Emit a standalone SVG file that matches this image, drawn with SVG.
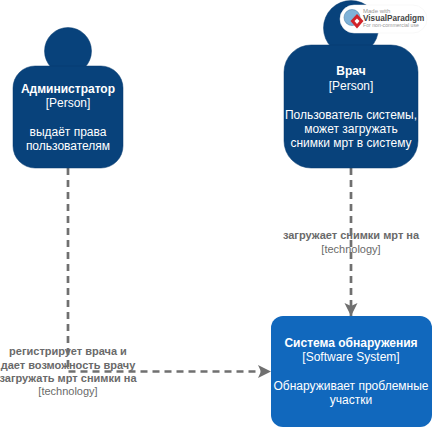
<svg xmlns="http://www.w3.org/2000/svg" width="432" height="427" viewBox="0 0 432 427">
<style>
text{font-family:"Liberation Sans",Arial,sans-serif;font-size:12px;text-anchor:middle}
.n text{fill:#fff}
.b{font-weight:700}
.p{fill:#08427b;stroke:#073b6f;stroke-width:.5}
.l{fill:none;stroke:#707070;stroke-width:2.700;stroke-dasharray:7 5}
.e text{fill:#6a6a6a;font-size:11px}
.w{text-anchor:start}
</style>
<defs><marker id="a" markerWidth="14" markerHeight="14" refX="13" refY="7" orient="auto" markerUnits="userSpaceOnUse"><path d="M0 0.500L13 7L0 13.500L3 7Z" fill="#707070"/></marker></defs>
<g id="edge-labels" class="e">
<text class="b" x="68" y="355">регистрирует врача и</text>
<text class="b" x="68" y="369">дает возможность врачу</text>
<text class="b" x="68" y="382">загружать мрт снимки на</text>
<text x="68" y="395">[technology]</text>
<text class="b" x="351" y="239">загружает снимки мрт на</text>
<text x="351" y="253">[technology]</text>
</g>
<g id="connectors">
<path class="l" d="M68 168V371.500H271" marker-end="url(#a)"/>
<path class="l" d="M351 168V316" marker-end="url(#a)"/>
</g>
<g id="admin" class="n">
<circle class="p" cx="68" cy="51" r="23.500"/>
<rect class="p" x="13" y="66" width="110" height="102" rx="22"/>
<text class="b" x="68" y="93">Администратор</text>
<text x="68" y="107">[Person]</text>
<text x="68" y="136">выдаёт права</text>
<text x="68" y="150">пользователям</text>
</g>
<g id="doctor" class="n">
<circle class="p" cx="351" cy="28" r="27.500"/>
<rect class="p" x="284" y="45" width="134" height="123" rx="27"/>
<text class="b" x="351" y="75">Врач</text>
<text x="351" y="90">[Person]</text>
<text x="351" y="119">Пользователь системы,</text>
<text x="351" y="133">может загружать</text>
<text x="351" y="147">снимки мрт в систему</text>
</g>
<g id="system" class="n">
<rect x="271" y="316" width="161" height="111" rx="12" fill="#1168bd"/>
<text class="b" x="351" y="347">Система обнаружения</text>
<text x="351" y="361">[Software System]</text>
<text x="351" y="390">Обнаруживает проблемные</text>
<text x="351" y="404">участки</text>
</g>
<g id="watermark">
<rect x="340" y="5" width="87" height="28" rx="14" fill="#fff" stroke="#f0f0f0" stroke-width=".5"/>
<circle cx="352" cy="17.500" r="8" fill="#7fb2d8" stroke="#4d87ad" stroke-width=".6"/>
<path d="M357 14L363.500 21L357 28.500L350.500 21Z" fill="#d2232a"/>
<path d="M357 18.500L359.500 21L357 24L354.500 21Z" fill="#fff"/>
<text class="w" x="363" y="13" style="font-size:6px;fill:#999">Made with</text>
<text class="w" x="363" y="20.500" style="font-size:8.200px;font-weight:700;fill:#444">VisualParadigm</text>
<text class="w" x="363" y="27" style="font-size:5.200px;fill:#999">For non-commercial use</text>
</g>
</svg>
